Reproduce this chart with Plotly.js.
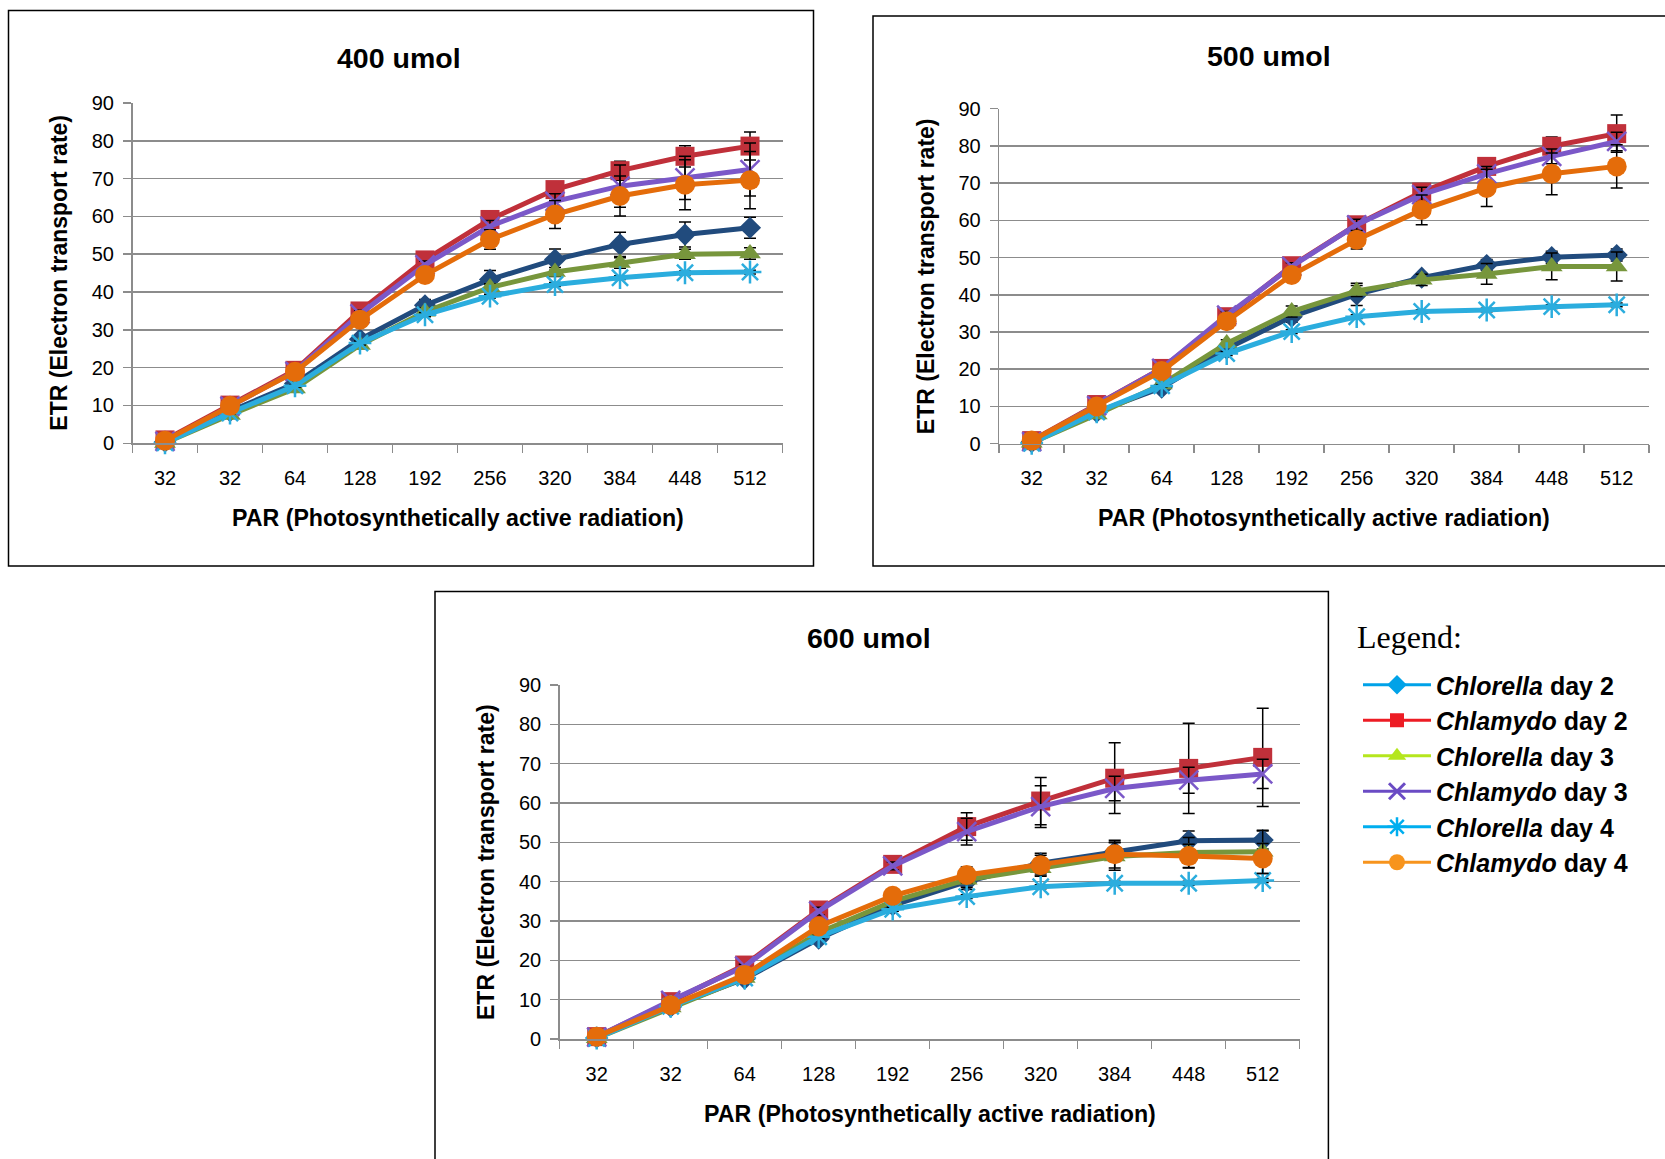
<!DOCTYPE html>
<html>
<head>
<meta charset="utf-8">
<script src="https://cdn.plot.ly/plotly-3.0.1.min.js"></script>
<style>
html,body{margin:0;padding:0;background:#fff;overflow:hidden}
#chart{width:1665px;height:1159px}
</style>
</head>
<body>
<div id="chart"></div>
<script>
// ---------------- DATA ----------------
const PAR_LABELS = ['32','32','64','128','192','256','320','384','448','512'];
const SERIES_NAMES = ['Chlorella day 2','Chlamydo day 2','Chlorella day 3','Chlamydo day 3','Chlorella day 4','Chlamydo day 4'];
const PANEL_TITLES = ['400 umol','500 umol','600 umol'];
const X_TITLE = 'PAR (Photosynthetically active radiation)';
const Y_TITLE = 'ETR (Electron transport rate)';
const LEGEND_HEADING = 'Legend:';

// 400 umol
const ETR400_CHLORELLA_D2 = [0.4, 8.5, 15.8, 27.5, 36.5, 43.3, 48.6, 52.6, 55.2, 57.0];
const ETR400_CHLAMYDO_D2  = [0.9, 10.1, 19.3, 35.0, 48.5, 59.2, 67.1, 72.1, 75.9, 78.6];
const ETR400_CHLORELLA_D3 = [0.1, 7.5, 14.5, 26.0, 34.8, 41.2, 45.3, 47.7, 50.0, 50.2];
const ETR400_CHLAMYDO_D3  = [0.5, 9.8, 19.0, 34.2, 47.2, 57.4, 64.0, 68.0, 70.2, 72.4];
const ETR400_CHLORELLA_D4 = [0.1, 8.0, 15.2, 26.5, 34.0, 38.9, 42.0, 43.8, 45.1, 45.3];
const ETR400_CHLAMYDO_D4  = [0.7, 9.9, 18.9, 32.7, 44.5, 53.9, 60.5, 65.4, 68.4, 69.6];
const ERR400_CHLORELLA_D2 = [0, 0.3, 0.5, 1.0, 1.5, 2.4, 2.8, 3.2, 3.3, 2.8];
const ERR400_CHLAMYDO_D2  = [0, 0.3, 0.5, 1.0, 1.5, 1.5, 2.0, 2.5, 2.8, 3.7];
const ERR400_CHLORELLA_D3 = [0, 0.3, 0.5, 1.0, 1.0, 1.0, 1.2, 1.4, 1.3, 1.5];
const ERR400_CHLAMYDO_D3  = [0, 0.3, 0.5, 1.0, 1.0, 1.5, 2.0, 5.6, 5.7, 7.0];
const ERR400_CHLORELLA_D4 = [0, 0.2, 0.3, 0.5, 0.5, 0.5, 0.5, 0.5, 0.5, 0.5];
const ERR400_CHLAMYDO_D4  = [0, 0.3, 0.5, 1.0, 1.0, 2.6, 3.7, 5.3, 6.6, 7.6];

// 500 umol
const ETR500_CHLORELLA_D2 = [0.4, 8.5, 15.0, 25.5, 34.1, 40.1, 44.6, 48.0, 50.1, 50.7];
const ETR500_CHLAMYDO_D2  = [0.8, 10.5, 20.2, 34.1, 47.8, 58.8, 67.6, 74.5, 79.9, 83.3];
const ETR500_CHLORELLA_D3 = [0.2, 7.8, 15.9, 26.9, 35.5, 41.0, 44.0, 45.6, 47.6, 47.6];
const ETR500_CHLAMYDO_D3  = [0.5, 10.2, 20.2, 34.5, 47.6, 58.8, 66.9, 72.5, 77.2, 81.2];
const ETR500_CHLORELLA_D4 = [0.1, 8.5, 15.5, 24.2, 30.1, 34.1, 35.5, 35.9, 36.8, 37.3];
const ETR500_CHLAMYDO_D4  = [0.8, 10.0, 19.5, 32.9, 45.3, 54.8, 62.8, 68.7, 72.5, 74.5];
const ERR500_CHLORELLA_D2 = [0, 0.3, 0.5, 1.0, 1.5, 3.0, 1.0, 1.5, 1.6, 1.6];
const ERR500_CHLAMYDO_D2  = [0, 0.3, 0.5, 1.0, 1.0, 1.0, 1.5, 2.0, 2.5, 5.0];
const ERR500_CHLORELLA_D3 = [0, 0.3, 0.5, 1.0, 1.5, 1.5, 1.5, 2.8, 3.6, 3.9];
const ERR500_CHLAMYDO_D3  = [0, 0.3, 0.5, 1.0, 1.0, 1.5, 2.0, 2.0, 2.0, 2.5];
const ERR500_CHLORELLA_D4 = [0, 0.2, 0.3, 0.5, 0.5, 0.5, 0.5, 0.5, 0.5, 0.5];
const ERR500_CHLAMYDO_D4  = [0, 0.3, 0.5, 1.0, 1.5, 2.5, 4.0, 5.0, 5.6, 5.8];

// 600 umol
const ETR600_CHLORELLA_D2 = [0.4, 8.2, 15.3, 25.5, 34.0, 40.0, 44.7, 47.6, 50.4, 50.6];
const ETR600_CHLAMYDO_D2  = [0.6, 9.5, 18.8, 32.8, 44.4, 54.0, 60.5, 66.3, 68.8, 71.6];
const ETR600_CHLORELLA_D3 = [0.2, 8.0, 15.5, 27.0, 35.0, 40.5, 43.4, 46.4, 47.4, 47.6];
const ETR600_CHLAMYDO_D3  = [0.5, 9.8, 18.5, 32.5, 44.0, 52.7, 59.1, 63.7, 65.8, 67.4];
const ETR600_CHLORELLA_D4 = [0.2, 8.3, 15.5, 26.0, 33.0, 36.2, 38.7, 39.6, 39.6, 40.3];
const ETR600_CHLAMYDO_D4  = [0.6, 8.6, 16.3, 28.6, 36.4, 41.7, 44.2, 47.0, 46.5, 45.9];
const ERR600_CHLORELLA_D2 = [0, 0.3, 0.5, 1.0, 1.5, 2.0, 2.5, 2.5, 2.5, 2.3];
const ERR600_CHLAMYDO_D2  = [0, 0.3, 0.5, 1.0, 1.0, 3.5, 6.0, 9.0, 11.5, 12.5];
const ERR600_CHLORELLA_D3 = [0, 0.3, 0.5, 1.0, 1.0, 2.0, 2.0, 3.5, 3.8, 5.5];
const ERR600_CHLAMYDO_D3  = [0, 0.3, 0.5, 1.0, 1.0, 3.4, 5.3, 3.1, 3.3, 3.7];
const ERR600_CHLORELLA_D4 = [0, 0.2, 0.3, 0.5, 0.5, 0.5, 0.5, 0.5, 0.5, 0.5];
const ERR600_CHLAMYDO_D4  = [0, 0.3, 0.5, 1.0, 1.5, 2.0, 2.5, 3.5, 3.0, 3.8];

// ---------------- STYLE / LAYOUT ----------------
const W = 1665, H = 1159;
const px = v => v / W;
const py = v => 1 - v / H;
const FONT = 'Liberation Sans, Arial, sans-serif';
const GRID = '#8c8c8c';

const SERIES_STYLE = [
  {color:'#214b7d', symbol:'diamond', size:17, lw:0},
  {color:'#c0303a', symbol:'square', size:19, lw:0},
  {color:'#77963c', symbol:'triangle-up', size:19, lw:0},
  {color:'#7b58c8', symbol:'x-thin-open', size:19, lw:2.5},
  {color:'#2badde', symbol:'asterisk-open', size:19, lw:2.5},
  {color:'#e46c0a', symbol:'circle', size:20, lw:0}
];
const LEGEND_STYLE = [
  {color:'#00a2e8', symbol:'diamond', size:15, lw:0},
  {color:'#ed1c24', symbol:'square', size:14, lw:0},
  {color:'#b5e61d', symbol:'triangle-up', size:16, lw:0},
  {color:'#6a4bc4', symbol:'x-thin-open', size:16, lw:3},
  {color:'#00aeef', symbol:'asterisk-open', size:16, lw:2.5},
  {color:'#f7941d', symbol:'circle', size:16, lw:0}
];

const PANELS = [
  {values:[ETR400_CHLORELLA_D2,ETR400_CHLAMYDO_D2,ETR400_CHLORELLA_D3,ETR400_CHLAMYDO_D3,ETR400_CHLORELLA_D4,ETR400_CHLAMYDO_D4],
   errors:[ERR400_CHLORELLA_D2,ERR400_CHLAMYDO_D2,ERR400_CHLORELLA_D3,ERR400_CHLAMYDO_D3,ERR400_CHLORELLA_D4,ERR400_CHLAMYDO_D4],
   left:132.5, right:782.5, top:103, bottom:443.3, titleX:399.3, titleY:58.4, yTitleX:59.5, xTitleY:518, box:[8.5,10.6,813.5,566]},
  {values:[ETR500_CHLORELLA_D2,ETR500_CHLAMYDO_D2,ETR500_CHLORELLA_D3,ETR500_CHLAMYDO_D3,ETR500_CHLORELLA_D4,ETR500_CHLAMYDO_D4],
   errors:[ERR500_CHLORELLA_D2,ERR500_CHLAMYDO_D2,ERR500_CHLORELLA_D3,ERR500_CHLAMYDO_D3,ERR500_CHLORELLA_D4,ERR500_CHLAMYDO_D4],
   left:999.2, right:1649.2, top:108.7, bottom:443.6, titleX:1269, titleY:56.3, yTitleX:926, xTitleY:518, box:[873,16,1666,566]},
  {values:[ETR600_CHLORELLA_D2,ETR600_CHLAMYDO_D2,ETR600_CHLORELLA_D3,ETR600_CHLAMYDO_D3,ETR600_CHLORELLA_D4,ETR600_CHLAMYDO_D4],
   errors:[ERR600_CHLORELLA_D2,ERR600_CHLAMYDO_D2,ERR600_CHLORELLA_D3,ERR600_CHLAMYDO_D3,ERR600_CHLORELLA_D4,ERR600_CHLAMYDO_D4],
   left:559.7, right:1299.7, top:685, bottom:1039, titleX:868.6, titleY:638, yTitleX:486, xTitleY:1114, box:[435,591.5,1328.4,1170]}
];

const xIdx = PAR_LABELS.map((_, i) => i);
const traces = [];
const layout = {
  width: W, height: H,
  margin: {l:0, r:0, t:0, b:0},
  paper_bgcolor: '#fff', plot_bgcolor: 'rgba(0,0,0,0)',
  showlegend: true,
  shapes: [], annotations: [],
  legend: {
    x: px(1358), y: py(662), xanchor:'left', yanchor:'top',
    bgcolor:'rgba(0,0,0,0)', borderwidth:0,
    font:{family:FONT, size:25, color:'#000'},
    itemwidth: 68, tracegroupgap: 0, itemclick:false, itemdoubleclick:false
  }
};

PANELS.forEach((p, k) => {
  const sfx = k === 0 ? '' : String(k + 1);
  const xa = 'x' + sfx, ya = 'y' + sfx;
  layout['xaxis' + sfx] = {
    domain:[px(p.left), px(p.right)], range:[-0.5, PAR_LABELS.length - 0.5], anchor: ya,
    tickmode:'array', tickvals: xIdx, ticktext: PAR_LABELS, ticks:'',
    tickfont:{family:FONT, size:20, color:'#000'}, ticklabelstandoff: 16,
    showgrid:false, zeroline:false, showline:true, linecolor:GRID, linewidth:1.5,
    minor:{tickmode:'linear', tick0:-0.5, dtick:1, ticks:'outside', ticklen:8, tickcolor:GRID, tickwidth:1.5, showgrid:false},
    fixedrange:true
  };
  layout['yaxis' + sfx] = {
    domain:[py(p.bottom), py(p.top)], range:[0, 90], anchor: xa,
    tickmode:'linear', tick0:0, dtick:10, ticks:'outside', ticklen:8, tickcolor:GRID, tickwidth:1.5,
    tickfont:{family:FONT, size:20, color:'#000'}, ticklabelstandoff: 5,
    showgrid:true, gridcolor:GRID, gridwidth:1.5, zeroline:false, showline:true, linecolor:GRID, linewidth:1.5,
    fixedrange:true
  };
  p.values.forEach((vals, s) => {
    const st = SERIES_STYLE[s];
    traces.push({
      type:'scatter', mode:'lines+markers', x: xIdx, y: vals, xaxis: xa, yaxis: ya,
      name: SERIES_NAMES[s], showlegend:false, hoverinfo:'skip', cliponaxis:false,
      line:{color:st.color, width:5},
      marker:{symbol:st.symbol, size:st.size, color:st.color, line:{color:st.color, width:st.lw}},
      error_y:{type:'data', array:p.errors[s], visible:true, color:'#000', thickness:1.5, width:6}
    });
  });
  layout.shapes.push({type:'rect', xref:'paper', yref:'paper', x0:px(p.box[0]), x1:px(p.box[2]), y0:py(p.box[3]), y1:py(p.box[1]), line:{color:'#000', width:1.5}, fillcolor:'rgba(0,0,0,0)'});
  layout.annotations.push({xref:'paper', yref:'paper', x:px(p.titleX), y:py(p.titleY), xanchor:'center', yanchor:'middle', showarrow:false, text:'<b>' + PANEL_TITLES[k] + '</b>', font:{family:FONT, size:28.5, color:'#000'}});
  layout.annotations.push({xref:'paper', yref:'paper', x:px((p.left + p.right) / 2), y:py(p.xTitleY), xanchor:'center', yanchor:'middle', showarrow:false, text:'<b>' + X_TITLE + '</b>', font:{family:FONT, size:23.2, color:'#000'}});
  layout.annotations.push({xref:'paper', yref:'paper', x:px(p.yTitleX), y:py((p.top + p.bottom) / 2), xanchor:'center', yanchor:'middle', textangle:-90, showarrow:false, text:'<b>' + Y_TITLE + '</b>', font:{family:FONT, size:23, color:'#000'}});
});

layout.annotations.push({xref:'paper', yref:'paper', x:px(1355), y:py(637), xanchor:'left', yanchor:'middle', showarrow:false, text:LEGEND_HEADING, font:{family:'Liberation Serif, Times New Roman, serif', size:32, color:'#000'}});

// legend entries (separate colours, as in the reference legend)
SERIES_NAMES.forEach((nm, s) => {
  const st = LEGEND_STYLE[s];
  const parts = nm.split(' ');
  traces.push({
    type:'scatter', mode:'lines+markers', x:[null], y:[null], xaxis:'x', yaxis:'y',
    name:'<b><i>' + parts[0] + '</i> ' + parts.slice(1).join(' ') + '</b>', showlegend:true, hoverinfo:'skip',
    line:{color:st.color, width:3},
    marker:{symbol:st.symbol, size:st.size, color:st.color, line:{color:st.color, width:st.lw}}
  });
});

Plotly.newPlot('chart', traces, layout, {staticPlot:true, displayModeBar:false});
</script>
</body>
</html>
